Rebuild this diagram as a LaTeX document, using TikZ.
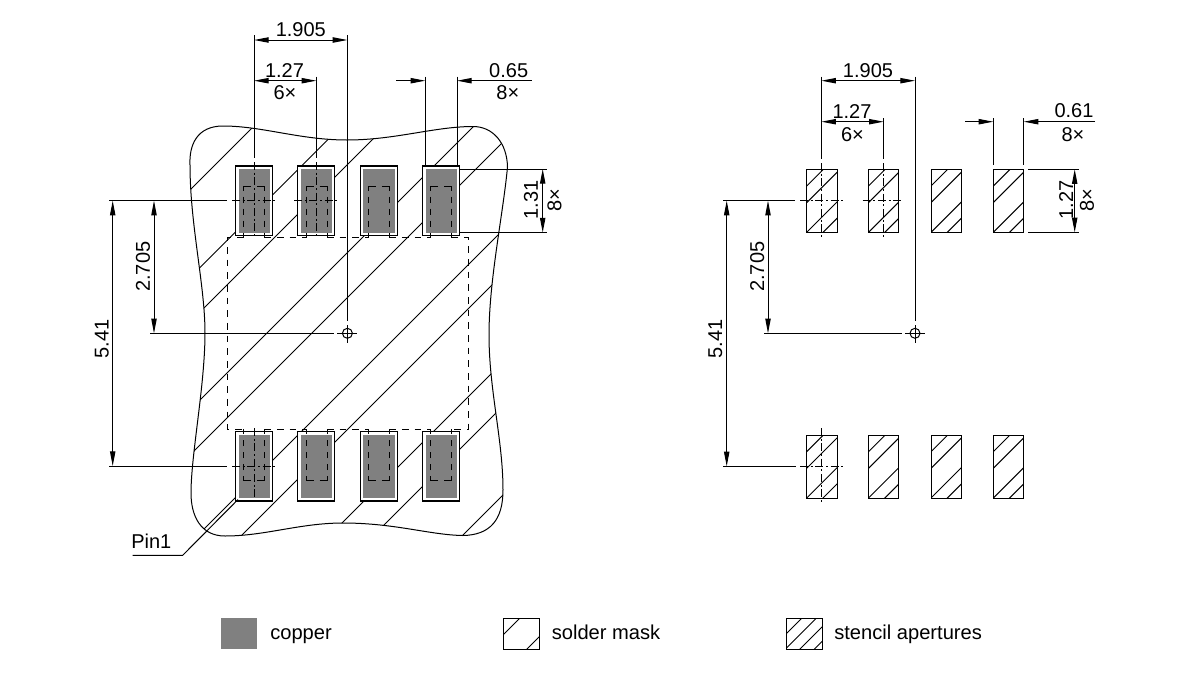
\documentclass[tikz,border=0pt]{standalone}
\usepackage{fontspec}
\setmainfont{Liberation Sans}
\usetikzlibrary{arrows.meta}
\definecolor{copper}{HTML}{808080}
\newcommand{\stencilpad}[2]{%
  \begin{scope}
    \clip (#1,#2) rectangle ({#1+30.3},{#2+63});
    \foreach \u in {16.7,33.3,63,79.3}
      \draw[thinl] ({#1+\u},#2) -- (#1,{#2+\u});
  \end{scope}
  \draw[thinl] (#1,#2) rectangle ({#1+30.3},{#2+63});
}
\newcommand{\datum}[2]{%
  \draw[thinl] (#1,#2) circle (5);
  \draw[thinl] ({#1-10},#2) -- ({#1+10},#2);
  \draw[thinl] (#1,{#2-8}) -- (#1,{#2+10});
}
\tikzset{
  x=.75pt, y=-.75pt,
  thinl/.style={line width=.75pt, black},
  dimline/.style={thinl, >={Triangle[length=11pt,width=4pt]}},
  centerl/.style={thinl, dash pattern=on 6pt off 2pt on 1.5pt off 2pt},
  outerdash/.style={thinl, dash pattern=on 5pt off 4.5pt},
  innerdash/.style={line width=.75pt, black, dash pattern=on 9pt off 4.5pt on 4.5pt off 4.5pt on 4.5pt off 4.5pt on 4.5pt off 4.5pt on 5pt off 50pt},
  padbox/.style={line width=1pt, black, fill=white},
  dimtext/.style={inner sep=0pt, text height=10.7pt, text depth=0pt, font=\fontsize{15}{15}\selectfont},
  legtext/.style={inner sep=0pt, anchor=base west, font=\fontsize{15.1}{15}\selectfont},
}
\begin{document}
\begin{tikzpicture}
\fill[white] (0,0) rectangle (1200,675);
\useasboundingbox (0,0) rectangle (1200,675);
% solder mask outline and hatch
\def\blobpath{(190,165) .. controls (189,145) and (197,126) .. (223,126)
  .. controls (262,126) and (300,140) .. (347,140)
  .. controls (395,140) and (435,126.5) .. (473,126.5)
  .. controls (493,126.5) and (507,143) .. (507.5,167)
  .. controls (503,215) and (489,280) .. (489,335)
  .. controls (489,390) and (503,440) .. (503,490)
  .. controls (503,520) and (490,535) .. (463,535.5)
  .. controls (430,535) and (395,523) .. (343,523)
  .. controls (300,523) and (265,536) .. (225,536)
  .. controls (200,536) and (191,515) .. (191,493)
  .. controls (191,455) and (205,385) .. (205,333)
  .. controls (205,285) and (190,225) .. (190,165) -- cycle}
\begin{scope}
  \clip \blobpath;
  \foreach \u in {380,467.5,512,600,645,733,777,865,909,998}
    \draw[thinl] (\u,0) -- (0,\u);
\end{scope}
\draw[thinl] \blobpath;
% pads
\foreach \px in {235.5,297.7,360.3,422.7} {
  \draw[padbox] (\px,166) rectangle ({\px+37},235.3);
  \fill[copper] ({\px+3},169) rectangle ({\px+34.3},232.7);
  \draw[padbox] (\px,431.7) rectangle ({\px+37},501);
  \fill[copper] ({\px+3},434.5) rectangle ({\px+34.3},498.2);
}
% dashed exposed pad outline
\foreach \lx/\mx/\rx in {243.3/253.8/264.3,306/316.5/327,368.3/378.8/389.3,430.7/441.2/451.7} {
  \draw[innerdash] ({\mx-3},186) -- (\lx,186) -- (\lx,238);
  \draw[innerdash] ({\mx+3},186) -- (\rx,186) -- (\rx,238);
  \draw[innerdash] ({\mx-3},480.7) -- (\lx,480.7) -- (\lx,428.5);
  \draw[innerdash] ({\mx+3},480.7) -- (\rx,480.7) -- (\rx,428.5);
}
\foreach \ay/\by in {237.3/237.3,429.3/429.3} {
  \draw[outerdash] (264.3,\ay) -- (306,\by);
  \draw[outerdash] (327,\ay) -- (368.3,\by);
  \draw[outerdash] (389.3,\ay) -- (430.7,\by);
}
\draw[outerdash] (243.3,237.3) -- (227.5,237.3) -- (227.5,429.3) -- (243.3,429.3);
\draw[outerdash] (451.7,237.3) -- (468,237.3) -- (468,429.3) -- (451.7,429.3);
% left view centre lines
\draw[thinl] (254,35) -- (254,158);
\draw[centerl] (254,162) -- (254,238);
\draw[thinl] (316.3,76.7) -- (316.3,158);
\draw[centerl] (316.3,162) -- (316.3,238);
\draw[centerl] (254,428) -- (254,504);
\draw[thinl] (109,200.7) -- (227,200.7);
\draw[centerl] (232,200.7) -- (276,200.7);
\draw[centerl] (294,200.7) -- (338,200.7);
\draw[thinl] (109,466) -- (227,466);
\draw[centerl] (232,466) -- (276,466);
\draw[thinl] (347.4,35) -- (347.4,321);
\draw[thinl] (150,333.3) -- (334,333.3);
\datum{347.4}{333.3}
\draw[thinl] (425.3,76.7) -- (425.3,166);
\draw[thinl] (457,76.7) -- (457,166);
\draw[thinl] (460,169) -- (547,169);
\draw[thinl] (460,232.5) -- (547,232.5);
% left view dimensions
\draw[dimline,<->] (254,40) -- (347.4,40);
\draw[dimline,<->] (254,80.7) -- (316.3,80.7);
\draw[dimline,->] (396,80.7) -- (425.3,80.7);
\draw[dimline,->] (531.7,80.7) -- (457,80.7);
\draw[dimline,<->] (542.7,169) -- (542.7,232.5);
\draw[dimline,<->] (112.7,200.7) -- (112.7,466);
\draw[dimline,<->] (154,200.7) -- (154,333.3);
\node[dimtext] (a1) at (300.8,29) {1.905};
\node[dimtext] (a2) at (284.5,70.7) {1.27};
\node[dimtext] (a3) at (285,92.7) {6×};
\node[dimtext] (a4) at (508.7,70.7) {0.65};
\node[dimtext] (a5) at (507.8,92.7) {8×};
\node[dimtext,rotate=90] (a6) at (530.7,200) {1.31};
\node[dimtext,rotate=90] (a7) at (554.3,200.5) {8×};
\node[dimtext,rotate=90] (a8) at (101.5,339) {5.41};
\node[dimtext,rotate=90] (a9) at (142.7,266.7) {2.705};
% pin 1 leader
\node[inner sep=0pt, anchor=west, text height=10.7pt, text depth=0pt, font=\fontsize{15}{15}\selectfont] (pin) at (131,541.7) {Pin1};
\coordinate (pinA) at (132.7,555.3);
\coordinate (pinB) at (182.7,555.3);
\coordinate (pinC) at (238,499.5);
\draw[thinl] (pinA) -- (pinB) -- (pinC);
% right view
\foreach \px in {806.7,868.5,931,993.3} {
  \stencilpad{\px}{169.3}
  \stencilpad{\px}{435}
}
\draw[thinl] (821.3,76.7) -- (821.3,159);
\draw[centerl] (821.3,163) -- (821.3,238);
\draw[thinl] (883.7,118) -- (883.7,159);
\draw[centerl] (883.7,163) -- (883.7,238);
\draw[centerl] (821.3,428) -- (821.3,503.5);
\draw[thinl] (723,200.7) -- (795,200.7);
\draw[centerl] (800,200.7) -- (842.7,200.7);
\draw[centerl] (862.7,200.7) -- (904,200.7);
\draw[thinl] (723,466.3) -- (796,466.3);
\draw[centerl] (800,466.3) -- (842.7,466.3);
\draw[thinl] (915,76.7) -- (915,321);
\draw[thinl] (764,333.3) -- (902,333.3);
\datum{915}{333.3}
\draw[thinl] (993.3,118) -- (993.3,165);
\draw[thinl] (1023.7,118) -- (1023.7,165);
\draw[thinl] (1028,169.3) -- (1079,169.3);
\draw[thinl] (1028,232.3) -- (1079,232.3);
\draw[dimline,<->] (821.3,80.7) -- (915,80.7);
\draw[dimline,<->] (821.3,121.7) -- (883.7,121.7);
\draw[dimline,->] (965,121.7) -- (993.3,121.7);
\draw[dimline,->] (1095,121.7) -- (1023.7,121.7);
\draw[dimline,<->] (1074.7,169.3) -- (1074.7,232.3);
\draw[dimline,<->] (726.7,200.7) -- (726.7,466.3);
\draw[dimline,<->] (768,200.7) -- (768,333.3);
\node[dimtext] (b1) at (868,70) {1.905};
\node[dimtext] (b2) at (852,111.7) {1.27};
\node[dimtext] (b3) at (852.5,134) {6×};
\node[dimtext] (b4) at (1074,110.7) {0.61};
\node[dimtext] (b5) at (1073,134) {8×};
\node[dimtext,rotate=90] (b6) at (1066,200) {1.27};
\node[dimtext,rotate=90] (b7) at (1086.7,200) {8×};
\node[dimtext,rotate=90] (b8) at (715,339) {5.41};
\node[dimtext,rotate=90] (b9) at (757,266.7) {2.705};
% legend
\fill[copper] (220.5,618) rectangle (256.5,649);
\node[legtext] (l1) at (270,639) {copper};
\begin{scope}
  \clip (503,618) rectangle (539.5,649);
  \foreach \u in {17,55} \draw[thinl] ({503+\u},618) -- (503,{618+\u});
\end{scope}
\draw[thinl] (503,618) rectangle (539.5,649);
\node[legtext] (l2) at (551.5,639) {solder mask};
\begin{scope}
  \clip (786,618) rectangle (822.5,649);
  \foreach \u in {16,30.5,45,59.5} \draw[thinl] ({786+\u},618) -- (786,{618+\u});
\end{scope}
\draw[thinl] (786,618) rectangle (822.5,649);
\node[legtext] (l3) at (834,639) {stencil apertures};
\end{tikzpicture}
\end{document}
